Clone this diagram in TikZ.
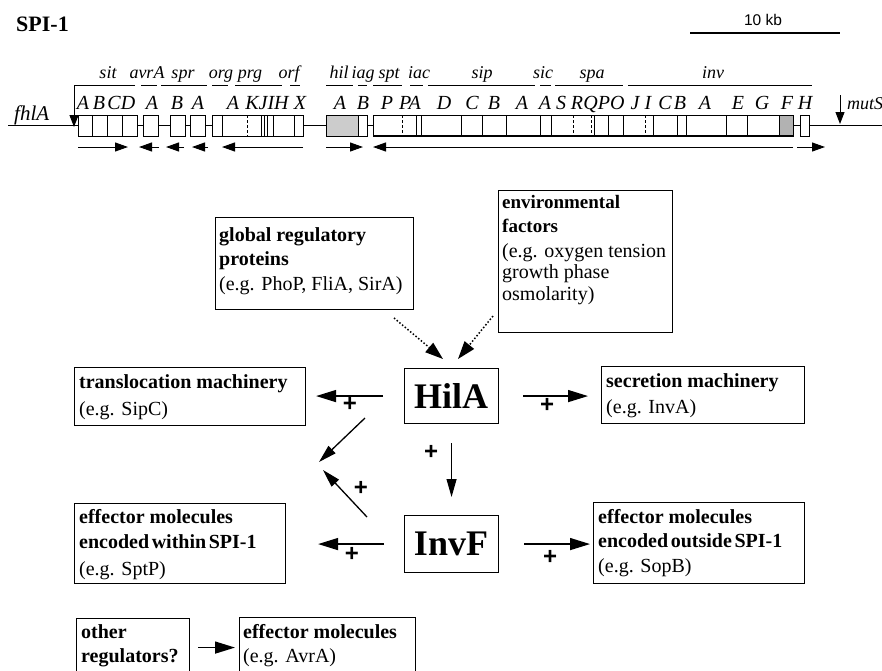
\documentclass[tikz,border=0pt]{standalone}
\usepackage{fontspec}
\setmainfont{Liberation Serif}
\newfontfamily\arialf{Liberation Sans}
\usetikzlibrary{arrows.meta,calc}
\newcommand{\tsp}{\hspace{0.13em}}
\begin{document}
\begin{tikzpicture}[x=1pt,y=-1pt,
  box/.style={draw, line width=1.1pt, inner sep=0pt, anchor=north west},
  txt/.style={anchor=base west, inner sep=0pt, font=\fontsize{20}{24}\selectfont},
  btxt/.style={anchor=base west, inner sep=0pt, font=\fontsize{20}{24}\selectfont\bfseries},
  big/.style={inner sep=0pt, font=\fontsize{36}{36}\selectfont\bfseries},
  gl/.style={anchor=base, inner sep=0pt, font=\fontsize{20}{20}\selectfont\itshape},
  op/.style={anchor=base, inner sep=0pt, font=\fontsize{18}{18}\selectfont\itshape},
  plus/.style={inner sep=0pt, font=\arialf\bfseries\fontsize{24}{24}\selectfont},
  arr/.style={-{Triangle[length=20pt,width=12pt]}, line width=1.5pt},
  thinarr/.style={-{Triangle[length=18pt,width=10pt]}, line width=1.1pt},
  dotarr/.style={-{Triangle[length=18pt,width=12pt]}, line width=1.5pt, dotted},
  garr/.style={-{Triangle[length=13pt,width=9pt]}, line width=1pt},
  gbox/.style={draw, fill=white, line width=0.9pt},
  gdiv/.style={line width=0.8pt},
  ovl/.style={line width=0.9pt}]
\useasboundingbox (0,0) rectangle (882,670);
\clip (0,0) rectangle (882,670);
\fill[white] (0,0) rectangle (882,670);

% ---------- title and scale ----------
\node[anchor=base west, inner sep=0pt, font=\fontsize{22}{22}\selectfont\bfseries] (title) at (16,31) {SPI-1};
\coordinate (sb1) at (690,33);
\coordinate (sb2) at (840,33);
\draw[line width=1.3pt] (sb1) -- (sb2);
\node[anchor=base, inner sep=0pt, font=\arialf\fontsize{15.5}{15.5}\selectfont] (kb) at (763,25) {10 kb};

% ---------- chromosome ----------
\draw[line width=1pt] (8,125) -- (882,125);
\draw[gbox] (78,115) rectangle (137,136);
\foreach \x in {92,107,122} \draw[gdiv] (\x,115) -- (\x,136);
\draw[gbox] (143,115) rectangle (158,136);
\draw[gbox] (170,115) rectangle (185,136);
\draw[gbox] (190,115) rectangle (205,136);
\draw[gbox] (212,115) rectangle (303,136);
\foreach \x in {222,261,264,267,273,294} \draw[gdiv] (\x,115) -- (\x,136);
\draw[gdiv, densely dashed] (247,115) -- (247,136);
\draw[gbox, fill=gray!40] (326,115) rectangle (358,136);
\draw[gbox] (358,115) rectangle (367,136);
\draw[gbox] (373,115) rectangle (793,136);
\foreach \x in {416,421,461,482,506,540,551,594,608,623,653,677,686,726,747} \draw[gdiv] (\x,115) -- (\x,136);
\foreach \x in {402,573,591,645} \draw[gdiv, densely dashed] (\x,115) -- (\x,136);
\draw[gbox, fill=gray!60] (779,115) rectangle (793,136);
\draw[gbox] (800,115) rectangle (809,136);
\draw[line width=1.4pt] (373,136) -- (793,136);

% insertion arrows
\draw[line width=0.9pt, -{Triangle[length=12pt,width=9pt]}] (135,85) -- (74,85) -- (74,127);
\draw[line width=0.9pt, -{Triangle[length=12pt,width=9pt]}] (840,95) -- (840,124);
\node[anchor=base west, inner sep=0pt, font=\fontsize{21}{21}\selectfont\itshape] (fhla) at (14,120) {fhlA};
\node[anchor=base west, inner sep=0pt, font=\fontsize{18}{18}\selectfont\itshape] (muts) at (847,109) {mutS};

% operon over-lines
\foreach \a/\b in {141/157,161/207,212/228,235/282,290/300,326/353,358/367,373/402,410/423,428/535,540/551,555/623,628/812}
  \draw[ovl] (\a,85) -- (\b,85);

% operon names
\foreach \x/\t in {108/sit,147/avrA,183/spr,221/org,250/prg,289/orf,339/hil,363/iag,389/spt,419/iac,482/sip,543/sic,592/spa,713/inv}
  \node[op] at (\x,78) {\t};

% gene letters
\foreach \x/\t in {83/A,99/B,114/C,128/D,152/A,177/B,198/A,233/A,267/KJIH,300/X,340/A,363/B,387/P,410/PA,444/D,472/C,494/B,522/A,545/A,561/S,577/R,604/QPO,635/J,648/I,665/C,680/B,705/A,738/E,762/G,787/F,805/H}
  \node[gl] at (\x,109) {\t};

% transcription direction arrows
\draw[garr] (78,147) -- (128,147);
\draw[garr] (159,147) -- (139,147);
\draw[garr] (184,147) -- (166,147);
\draw[garr] (208,147) -- (192,147);
\draw[garr] (303,147) -- (222,147);
\draw[garr] (326,147) -- (363,147);
\draw[garr] (793,147) -- (373,147);
\draw[garr] (797,147) -- (825,147);

% ---------- regulatory diagram ----------
\node[box, minimum width=198pt, minimum height=92pt] (glob) at (215,217) {};
\node[btxt] (glob1) at (219,241) {global regulatory};
\node[btxt] (glob2) at (219,265) {proteins};
\node[txt] (glob3) at (219,290) {(e.g. PhoP, FliA, SirA)};

\node[box, minimum width=174pt, minimum height=142pt] (env) at (498,190) {};
\node[btxt, font=\fontsize{19}{23}\selectfont\bfseries] (env1) at (502,208) {environmental};
\node[btxt, font=\fontsize{19}{23}\selectfont\bfseries] (env2) at (502,232) {factors};
\node[txt] (env3) at (502,257) {(e.g. oxygen tension};
\node[txt] (env4) at (502,278) {growth phase};
\node[txt] (env5) at (502,300) {osmolarity)};

\node[box, minimum width=94pt, minimum height=55pt] (hila) at (404,368) {};
\node[big] (hilat) at (451,396) {HilA};
\node[box, minimum width=94pt, minimum height=57pt] (invf) at (404,515) {};
\node[big] (invft) at (451,544) {InvF};

\node[box, minimum width=231pt, minimum height=58pt] (trans) at (74,367) {};
\node[btxt] (trans1) at (79,388) {translocation machinery};
\node[txt] (trans2) at (79,415) {(e.g. SipC)};

\node[box, minimum width=203pt, minimum height=57pt] (secr) at (601,366) {};
\node[btxt] (secr1) at (606,387) {secretion machinery};
\node[txt] (secr2) at (606,413) {(e.g. InvA)};

\node[box, minimum width=211pt, minimum height=80pt] (within) at (74,503) {};
\node[btxt] (within1) at (79,523) {effector molecules};
\node[btxt] (within2) at (79,548) {encoded\tsp within\tsp SPI-1};
\node[txt] (within3) at (79,575) {(e.g. SptP)};

\node[box, minimum width=211pt, minimum height=81pt] (outs) at (593,502) {};
\node[btxt] (outs1) at (598,523) {effector molecules};
\node[btxt] (outs2) at (598,547) {encoded\tsp outside\tsp SPI-1};
\node[txt] (outs3) at (598,572) {(e.g. SopB)};

\node[box, minimum width=113pt, minimum height=70pt] (other) at (76,618) {};
\node[btxt] (other1) at (81,638) {other};
\node[btxt] (other2) at (81,662) {regulators?};

\node[box, minimum width=176pt, minimum height=70pt] (avra) at (239,617) {};
\node[btxt] (avra1) at (243,638) {effector molecules};
\node[txt] (avra2) at (243,662) {(e.g. AvrA)};

% connectors
\draw[arr, shorten <=21pt, shorten >=10pt] (hila.west) -- (hila.west -| trans.east);
\draw[arr, shorten <=24pt, shorten >=13pt] (hila.east) -- (hila.east -| secr.west);
\draw[thinarr, shorten <=19pt, shorten >=18pt] (hila.south) -- (invf.north);
\draw[arr, shorten <=20pt, shorten >=32pt] (invf.west) -- (invf.west -| within.east);
\draw[arr, shorten <=25pt, shorten >=3pt] (invf.east) -- (invf.east -| outs.west);
\draw[arr, shorten <=8pt, shorten >=4pt] ($(other.east)+(0,-6)$) -- ($(avra.west)+(0,-5)$);

\coordinate (d1s) at (365,418);
\coordinate (d1e) at (319,462);
\coordinate (d2s) at (367,517);
\coordinate (d2e) at (323,470);
\draw[thinarr, line width=1.3pt] (d1s) -- (d1e);
\draw[thinarr, line width=1.3pt] (d2s) -- (d2e);

\coordinate (gtail) at (394,318);
\coordinate (etail) at (493,316);
\draw[dotarr] (gtail) -- (443,359);
\draw[dotarr] (etail) -- (458,359);

\node[plus] (p1) at (350,404) {+};
\node[plus] (p2) at (547,405) {+};
\node[plus] (p3) at (431,452) {+};
\node[plus] (p4) at (361,488) {+};
\node[plus] (p5) at (352,554) {+};
\node[plus] (p6) at (550,557) {+};
\end{tikzpicture}
\end{document}
